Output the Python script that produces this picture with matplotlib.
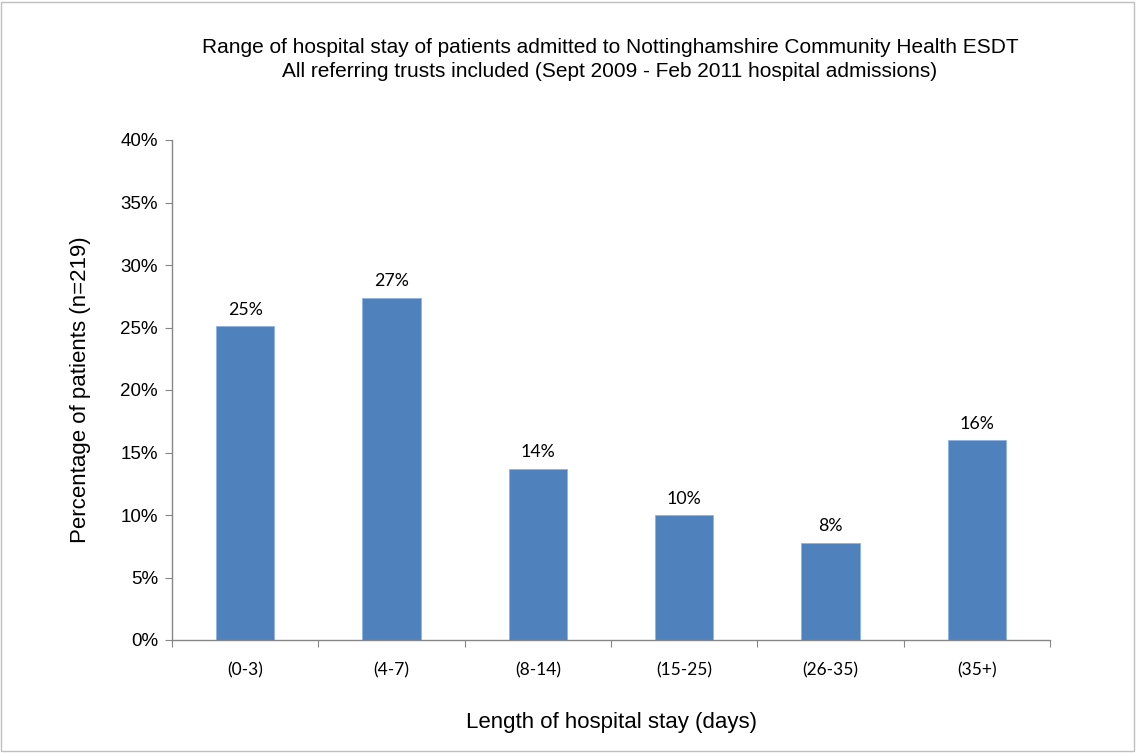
import matplotlib.pyplot as plt
from matplotlib.patches import Rectangle
from matplotlib.ticker import FuncFormatter

categories = ['(0-3)', '(4-7)', '(8-14)', '(15-25)', '(26-35)', '(35+)']
percentages = [25.1, 27.4, 13.7, 10.0, 7.8, 16.0]
bar_labels = ['25%', '27%', '14%', '10%', '8%', '16%']

fig = plt.figure(figsize=(11.36, 7.53), dpi=100)
ax = fig.add_axes([172 / 1136, 113 / 753, 878 / 1136, 500 / 753])

x = list(range(len(categories)))
bars = ax.bar(x, percentages, width=0.4, color='#4F81BD', edgecolor='#8EB4E3', linewidth=0.6)

for b, lab in zip(bars, bar_labels):
    ax.annotate(lab, (b.get_x() + b.get_width() / 2, b.get_height()),
                xytext=(0, 6), textcoords='offset points', ha='center', va='bottom',
                fontsize=12.8, family='Lato', color='#000000')

ax.set_xlim(-0.5, len(categories) - 0.5)
ax.set_ylim(0, 40)
ax.set_yticks(range(0, 41, 5))
ax.yaxis.set_major_formatter(FuncFormatter(lambda v, p: f'{v:.0f}%'))
ax.set_xticks([i - 0.5 for i in range(len(categories) + 1)], minor=False)
ax.set_xticklabels([])
ax.set_xticks(x, minor=True)
ax.set_xticklabels(categories, minor=True, fontsize=12.5, family='Lato')
ax.tick_params(axis='x', which='minor', length=0, pad=16)
ax.tick_params(axis='x', which='major', length=5, direction='out', color='#868686')
ax.tick_params(axis='y', length=5, direction='out', color='#868686', labelsize=13.5, pad=5)
for t in ax.get_yticklabels():
    t.set_family('Liberation Sans')

for s in ['top', 'right']:
    ax.spines[s].set_visible(False)
for s in ['left', 'bottom']:
    ax.spines[s].set_color('#868686')
    ax.spines[s].set_linewidth(1.0)

ax.set_xlabel('Length of hospital stay (days)', fontsize=16, family='Liberation Sans', labelpad=24)
ax.set_ylabel('Percentage of patients (n=219)', fontsize=16, family='Liberation Sans', labelpad=21)

fig.text(0.537, 0.921, 'Range of hospital stay of patients admitted to Nottinghamshire Community Health ESDT\n'
         'All referring trusts included (Sept 2009 - Feb 2011 hospital admissions)',
         ha='center', va='center', fontsize=15, family='Liberation Sans', linespacing=1.3)

fig.patches.append(Rectangle((0.001, 0.002), 0.997, 0.996, transform=fig.transFigure,
                             fill=False, edgecolor='#BFBFBF', linewidth=1))

fig.savefig('out.png', dpi=100)
